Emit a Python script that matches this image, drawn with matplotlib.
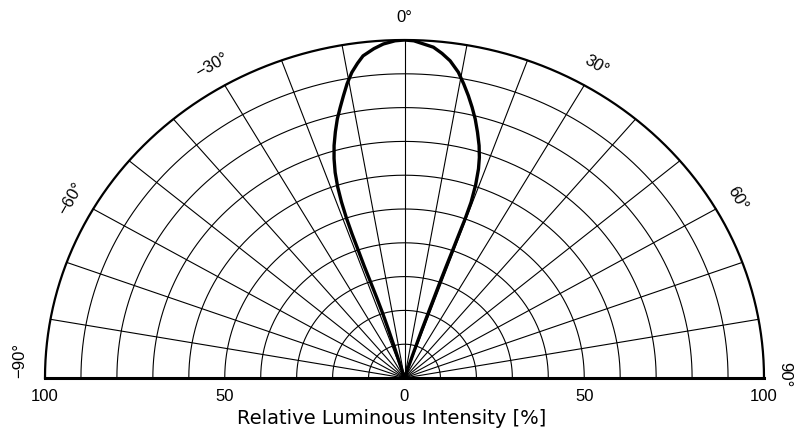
import numpy as np
import matplotlib
matplotlib.use('Agg')
import matplotlib.pyplot as plt

# 读图得到的光强分布 (角度 / 相对光强 %)
left_angle = [0, -1.5, -3.4, -5.0, -6.9, -8.0, -9.2, -10.4, -11.5, -12.6, -13.7, -14.8, -15.9,
              -16.8, -17.6, -18.2, -18.6, -18.85, -18.9, -18.8, -18.7, -18.4, -18.0, -17.6,
              -17.3, -17.1, -17.0]
left_intensity = [100, 99.8, 99.0, 97.8, 96.0, 94.0, 91.6, 88.5, 85.2, 82.0, 78.9, 75.3, 71.5,
                  67.8, 63.8, 59.5, 55.0, 50.0, 45.0, 40.0, 35.0, 30.0, 25.0, 20.0,
                  15.0, 10.0, 0]
right_angle = [0, 1.5, 3.0, 4.7, 6.2, 7.7, 9.4, 10.7, 12.0, 13.2, 14.4, 15.6, 16.8, 17.7,
               18.4, 19.1, 19.6, 19.7, 19.6, 19.5, 19.35, 19.2, 19.0, 18.7, 18.5, 18.4]
right_intensity = [100, 99.8, 99.0, 98.2, 96.6, 94.7, 91.7, 88.6, 85.4, 82.3, 79.1, 75.5, 71.8, 68.5,
                   65.2, 60.5, 55.2, 50.0, 45.0, 40.0, 35.0, 30.0, 22.0, 15.0, 8.0, 0]

radial_ticks = [10, 20, 30, 40, 50, 60, 70, 80, 90, 100]
spoke_angles = [-80, -70, -60, -50, -40, -30, -20, -10, 0, 10, 20, 30, 40, 50, 60, 70, 80]
label_angles = [-90, -60, -30, 0, 30, 60, 90]
label_texts = ['\u221290°', '\u221260°', '\u221230°', '0°', '30°', '60°', '90°']
x_ticks = [-100, -50, 0, 50, 100]
x_ticklabels = ['100', '50', '0', '50', '100']


def to_xy(angle_deg, r):
    a = np.radians(np.asarray(angle_deg, dtype=float))
    r = np.asarray(r, dtype=float)
    return r * np.sin(a), r * np.cos(a)


fig = plt.figure(figsize=(7.95, 4.39), dpi=100)
ax = fig.add_axes([45 / 795, 60 / 439, 719 / 795, 338 / 439])
ax.set_xlim(-100, 100)
ax.set_ylim(0, 100)
for s in ax.spines.values():
    s.set_visible(False)

# 网格: 同心圆 + 放射线
t = np.linspace(-90, 90, 361)
for r in radial_ticks:
    gx, gy = to_xy(t, np.full_like(t, r))
    lw = 1.6 if r == 100 else 0.8
    ax.plot(gx, gy, color='black', lw=lw, clip_on=False, zorder=2)
for a in spoke_angles:
    sx, sy = to_xy([a, a], [0, 100])
    ax.plot(sx, sy, color='black', lw=0.8, zorder=2)
ax.plot([-100, 100], [0, 0], color='black', lw=2.2, clip_on=False, zorder=3)

# 光强曲线
lx, ly = to_xy(left_angle, left_intensity)
rx, ry = to_xy(right_angle, right_intensity)
cx = np.concatenate([lx[::-1], rx[1:]])
cy = np.concatenate([ly[::-1], ry[1:]])
ax.plot(cx, cy, color='black', lw=2.4, solid_joinstyle='round', zorder=4)

# 角度标签
for a, txt in zip(label_angles, label_texts):
    tx, ty = to_xy(a, 107)
    if a == -90:
        ty = 5.6
    elif a == 90:
        tx, ty = 105.8, 1.2
    ax.text(tx, ty, txt, rotation=-a, ha='center', va='center',
            fontsize=12, family='Liberation Sans', clip_on=False)

ax.set_xticks(x_ticks)
ax.set_xticklabels(x_ticklabels, fontsize=12, family='Liberation Sans')
ax.tick_params(axis='x', length=0, pad=7)
ax.set_yticks([])
ax.set_xlabel('Relative Luminous Intensity [%]', fontsize=14, family='DejaVu Sans')
ax.xaxis.set_label_coords(0.4826, -0.088)

fig.savefig('out.png', dpi=100)
